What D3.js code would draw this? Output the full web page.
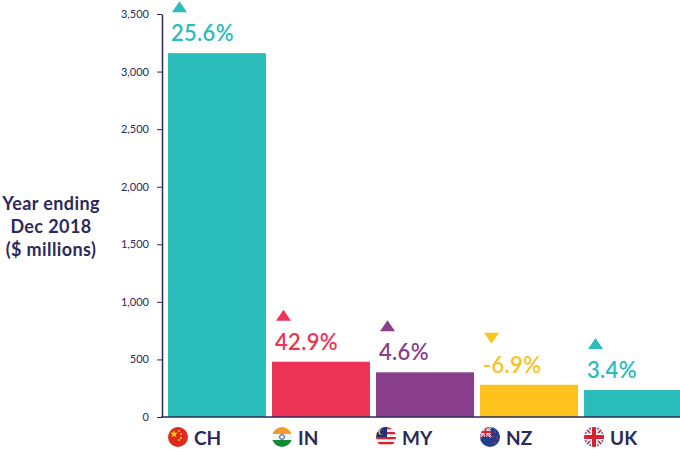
<!DOCTYPE html>
<html>
<head>
<meta charset="utf-8">
<script src="https://cdn.jsdelivr.net/npm/d3@7"></script>
<style>
  body { margin: 0; background: #fff; }
  svg { display: block; font-family: Lato, "Open Sans", sans-serif; }
</style>
</head>
<body>
<div id="plot"></div>
<script>
// Values
const countries = ["CH", "IN", "MY", "NZ", "UK"];
const spend = [3160, 480, 388, 280, 234];          // $ millions, year ending Dec 2018
const change = [25.6, 42.9, 4.6, -6.9, 3.4];       // % change
const yTicks = [0, 500, 1000, 1500, 2000, 2500, 3000, 3500];
const titleLines = ["Year ending", "Dec 2018", "($ millions)"];

const palette = ["#2bbdbb", "#ed3456", "#8a3f8c", "#fdc21c", "#2bbdbb"];
const navy = "#2b2a5a";

const width = 680, height = 449;
const svg = d3.select("#plot").append("svg")
  .attr("width", width)
  .attr("height", height);

const x = d3.scaleBand(countries, [168, 682]).paddingInner(0.058);
const y = d3.scaleLinear([0, 3500], [417, 14]);

// y title
svg.append("text")
  .attr("x", 51)
  .attr("text-anchor", "middle")
  .attr("fill", navy)
  .style("font-size", "18px")
  .style("font-weight", 700)
  .style("letter-spacing", "0.4px")
  .selectAll("tspan")
  .data(titleLines)
  .join("tspan")
    .attr("x", 51)
    .attr("y", (d, i) => 210 + i * 23)
    .text(d => d);

// bars
svg.append("g").selectAll("rect")
  .data(countries)
  .join("rect")
    .attr("x", d => x(d))
    .attr("y", (d, i) => y(spend[i]))
    .attr("width", x.bandwidth())
    .attr("height", (d, i) => y(0) - y(spend[i]))
    .attr("fill", (d, i) => palette[i]);

// y axis
const yAxis = svg.append("g")
  .attr("transform", "translate(162,0)")
  .call(d3.axisLeft(y).tickValues(yTicks).tickFormat(d3.format(",")).tickSize(5).tickSizeOuter(0).tickPadding(8));
yAxis.select(".domain").attr("stroke", navy).attr("stroke-width", 1.5);
yAxis.selectAll(".tick line").attr("stroke", navy);
yAxis.selectAll(".tick text").attr("fill", navy).style("font-size", "11px").style("font-family", "Lato, sans-serif");

// baseline
svg.append("line")
  .attr("x1", 161).attr("x2", width)
  .attr("y1", y(0)).attr("y2", y(0))
  .attr("stroke", navy).attr("stroke-width", 1.5);

// percent labels + arrows
const labels = svg.append("g").selectAll("g")
  .data(countries)
  .join("g")
    .attr("transform", (d, i) => `translate(${x(d)},${y(spend[i]) - 12})`);

labels.append("text")
  .attr("x", 3)
  .attr("fill", (d, i) => palette[i])
  .style("font-size", "22px")
  .style("font-weight", 600)
  .style("letter-spacing", "0.3px")
  .text((d, i) => (change[i] < 0 ? "-" : "") + Math.abs(change[i]).toFixed(1) + "%");

labels.append("path")
  .attr("fill", (d, i) => palette[i])
  .attr("d", (d, i) => change[i] >= 0
    ? "M4,-29 L19,-29 L11.5,-40 Z"
    : "M4,-40 L19,-40 L11.5,-29 Z");

// flags + country codes
const flagDefs = svg.append("defs");
flagDefs.append("clipPath").attr("id", "circ")
  .append("circle").attr("cx", 0).attr("cy", 0).attr("r", 10);

const cats = svg.append("g").selectAll("g")
  .data(countries)
  .join("g")
    .attr("transform", d => `translate(${x(d) + 10},437)`);

cats.append("text")
  .attr("x", 16)
  .attr("y", 8)
  .attr("fill", navy)
  .style("font-size", "19px")
  .style("font-weight", 700)
  .text(d => d);

const flags = cats.append("g").attr("clip-path", "url(#circ)");

function unionJack(g, x0, y0, w, h) {
  g.append("rect").attr("x", x0).attr("y", y0).attr("width", w).attr("height", h).attr("fill", "#1f3f8f");
  const cx = x0 + w / 2, cy = y0 + h / 2;
  g.append("path").attr("d", `M${x0},${y0}L${x0 + w},${y0 + h}M${x0 + w},${y0}L${x0},${y0 + h}`)
    .attr("stroke", "#fff").attr("stroke-width", h * 0.22);
  g.append("path").attr("d", `M${x0},${y0}L${x0 + w},${y0 + h}M${x0 + w},${y0}L${x0},${y0 + h}`)
    .attr("stroke", "#d8202f").attr("stroke-width", h * 0.08);
  g.append("path").attr("d", `M${cx},${y0}V${y0 + h}M${x0},${cy}H${x0 + w}`)
    .attr("stroke", "#fff").attr("stroke-width", h * 0.34);
  g.append("path").attr("d", `M${cx},${y0}V${y0 + h}M${x0},${cy}H${x0 + w}`)
    .attr("stroke", "#d8202f").attr("stroke-width", h * 0.2);
}

flags.each(function(d) {
  const g = d3.select(this);
  if (d === "CH") {
    g.append("rect").attr("x", -10).attr("y", -10).attr("width", 20).attr("height", 20).attr("fill", "#de2a1f");
    const star = d3.symbol(d3.symbolStar, 18)();
    g.append("path").attr("d", star).attr("transform", "translate(-4,-3)").attr("fill", "#ffde00");
    [[1, -6], [3, -3], [3, 1], [1, 3]].forEach(p =>
      g.append("circle").attr("cx", p[0]).attr("cy", p[1]).attr("r", 0.9).attr("fill", "#ffde00"));
  } else if (d === "IN") {
    g.append("rect").attr("x", -10).attr("y", -10).attr("width", 20).attr("height", 7).attr("fill", "#f39a2b");
    g.append("rect").attr("x", -10).attr("y", -3).attr("width", 20).attr("height", 6).attr("fill", "#f4f4f4");
    g.append("rect").attr("x", -10).attr("y", 3).attr("width", 20).attr("height", 7).attr("fill", "#138a36");
    g.append("circle").attr("r", 2.4).attr("fill", "none").attr("stroke", "#1d2f8a").attr("stroke-width", 0.9);
  } else if (d === "MY") {
    d3.range(8).forEach(k =>
      g.append("rect").attr("x", -10).attr("y", -10 + k * 2.5).attr("width", 20).attr("height", 2.5)
        .attr("fill", k % 2 ? "#f4f4f4" : "#d8202f"));
    g.append("rect").attr("x", -10).attr("y", -10).attr("width", 11).attr("height", 10).attr("fill", "#1d2f7a");
    g.append("circle").attr("cx", -5).attr("cy", -5).attr("r", 2.6).attr("fill", "#ffd21f");
    g.append("circle").attr("cx", -4).attr("cy", -5).attr("r", 2.2).attr("fill", "#1d2f7a");
  } else if (d === "NZ") {
    g.append("rect").attr("x", -10).attr("y", -10).attr("width", 20).attr("height", 20).attr("fill", "#1f3f8f");
    unionJack(g, -10, -10, 11, 10);
    [[5, -5], [3, 0], [7, 1], [5, 6]].forEach(p =>
      g.append("circle").attr("cx", p[0]).attr("cy", p[1]).attr("r", 1).attr("fill", "#d8202f"));
  } else {
    unionJack(g, -10, -10, 20, 20);
  }
});
</script>
</body>
</html>
